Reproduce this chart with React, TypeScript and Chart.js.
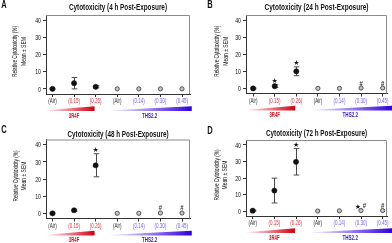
import React, { useEffect, useRef } from 'react';
import { Chart, registerables } from 'chart.js';

Chart.register(...registerables);

// ---------- data ----------
const xLabels = ['(Air)', '(0.15)', '(0.26)', '(Air)', '(0.14)', '(0.30)', '(0.45)'];
const xLabelColors = ['#2a2a2a', '#e0303e', '#e0303e', '#2a2a2a', '#7a58ee', '#7a58ee', '#7a58ee'];
const yTicks = [0, 10, 20, 30, 40];
const yTitle = ['Relative Cytotoxicity (%)', 'Mean \u00B1 SEM'];
const groupLabels = ['3R4F', 'THS2.2'];
const panelLetters = ['A', 'B', 'C', 'D'];
const panelTitles = [
  'Cytotoxicity (4 h Post-Exposure)',
  'Cytotoxicity (24 h Post-Exposure)',
  'Cytotoxicity (48 h Post-Exposure)',
  'Cytotoxicity (72 h Post-Exposure)',
];

const r4fX = [0, 1, 2];
const thsX = [3, 4, 5, 6];

const r4fMeanA = [0, 3.3, 1.2];
const r4fSemA = [0.3, 3.3, 0.6];
const thsMeanA = [0, 0, 0, 0];
const thsSemA = [0.4, 0.4, 0.4, 0.4];
const marksA: { x: number; y: number; t: string }[] = [];

const r4fMeanB = [0, 1.3, 10];
const r4fSemB = [0.3, 0.8, 2.6];
const thsMeanB = [0, 0, 0.2, 0.2];
const thsSemB = [0.4, 0.4, 0.4, 0.4];
const marksB = [
  { x: 1, y: 4.3, t: '\u2605' },
  { x: 2, y: 14.6, t: '\u2605' },
  { x: 5, y: 2.8, t: '#' },
  { x: 6, y: 2.8, t: '#' },
];

const r4fMeanC = [0, 1.8, 28];
const r4fSemC = [0.3, 0.6, 6.7];
const thsMeanC = [0, 0, 0.2, 0.2];
const thsSemC = [0.4, 0.4, 0.4, 0.4];
const marksC = [
  { x: 2, y: 37, t: '\u2605' },
  { x: 5, y: 3, t: '#' },
  { x: 6, y: 3, t: '#' },
];

const r4fMeanD = [0.2, 12.4, 29.8];
const r4fSemD = [0.3, 7.5, 8];
const thsMeanD = [0, 0.1, 0.3, 0.3];
const thsSemD = [0.4, 0.4, 0.4, 0.4];
const marksD = [
  { x: 2, y: 40, t: '\u2605' },
  { x: 4.86, y: 2.6, t: '\u2605' },
  { x: 5.16, y: 3, t: '#' },
  { x: 6, y: 3, t: '#' },
];

const panelData = [
  { r4fMean: r4fMeanA, r4fSem: r4fSemA, thsMean: thsMeanA, thsSem: thsSemA, marks: marksA },
  { r4fMean: r4fMeanB, r4fSem: r4fSemB, thsMean: thsMeanB, thsSem: thsSemB, marks: marksB },
  { r4fMean: r4fMeanC, r4fSem: r4fSemC, thsMean: thsMeanC, thsSem: thsSemC, marks: marksC },
  { r4fMean: r4fMeanD, r4fSem: r4fSemD, thsMean: thsMeanD, thsSem: thsSemD, marks: marksD },
];

// ---------- layout ----------
const FF = '"Liberation Sans", Arial, sans-serif';

const layouts = [
  { left: 0, top: 0, w: 196, h: 121, yW: 46, padR: 6, padT: 15, padB: 15, xMin: -0.3, xMax: 6.37, letterX: 4, letterY: 5.5, titleY: 7.5, titleW: 98, yt1: 15.5, yt2: 24 },
  { left: 196, top: 0, w: 196, h: 121, yW: 50, padR: 4, padT: 15, padB: 15.5, xMin: -0.33, xMax: 6.2, letterX: 14, letterY: 5.5, titleY: 7.5, titleW: 104, yt1: 21.5, yt2: 30 },
  { left: 0, top: 121, w: 196, h: 122, yW: 46, padR: 6, padT: 18.5, padB: 12.5, xMin: -0.3, xMax: 6.37, letterX: 4, letterY: 9.5, titleY: 13, titleW: 101, yt1: 16, yt2: 24.5 },
  { left: 196, top: 121, w: 196, h: 122, yW: 50, padR: 5, padT: 19, padB: 15, xMin: -0.31, xMax: 6.2, letterX: 14, letterY: 10.5, titleY: 12.5, titleW: 101, yt1: 21, yt2: 29.5 },
];

function measure(ctx: CanvasRenderingContext2D, text: string, font: string) {
  ctx.save();
  ctx.font = font;
  const w = ctx.measureText(text).width;
  ctx.restore();
  return w;
}

function drawText(
  ctx: CanvasRenderingContext2D,
  text: string,
  x: number,
  y: number,
  font: string,
  color: string,
  sx: number,
  align: CanvasTextAlign = 'center',
  rot = 0
) {
  ctx.save();
  ctx.font = font;
  ctx.fillStyle = color;
  ctx.textAlign = align;
  ctx.textBaseline = 'middle';
  ctx.translate(x, y);
  if (rot) ctx.rotate(rot);
  ctx.scale(sx, 1);
  ctx.fillText(text, 0, 0);
  ctx.restore();
}

function drawFit(
  ctx: CanvasRenderingContext2D,
  text: string,
  x: number,
  y: number,
  font: string,
  color: string,
  width: number,
  rot = 0
) {
  const w = measure(ctx, text, font);
  drawText(ctx, text, x, y, font, color, width / w, 'center', rot);
}

function Panel({ idx }: { idx: number }) {
  const ref = useRef<HTMLCanvasElement>(null);
  const L = layouts[idx];
  const D = panelData[idx];

  useEffect(() => {
    const canvas = ref.current;
    if (!canvas) return;

    const deco = {
      id: 'deco' + idx,
      beforeDatasetsDraw(chart: any) {
        const { ctx, chartArea: a, scales } = chart;
        const xs = scales.x;
        const ys = scales.y;
        ctx.save();
        // box top & right
        ctx.strokeStyle = '#8a8a8a';
        ctx.lineWidth = 1;
        ctx.beginPath();
        ctx.moveTo(a.left, a.top + 0.5);
        ctx.lineTo(a.right - 0.5, a.top + 0.5);
        ctx.lineTo(a.right - 0.5, a.bottom);
        ctx.stroke();
        // error bars
        ctx.strokeStyle = '#4a4a4a';
        ctx.lineWidth = 1;
        const drawErr = (xv: number, m: number, s: number, cap: number) => {
          const px = Math.round(xs.getPixelForValue(xv)) + 0.5;
          const y1 = ys.getPixelForValue(m + s);
          const y2 = ys.getPixelForValue(m - s);
          ctx.beginPath();
          ctx.moveTo(px, y1);
          ctx.lineTo(px, y2);
          ctx.moveTo(px - cap, y1);
          ctx.lineTo(px + cap, y1);
          ctx.moveTo(px - cap, y2);
          ctx.lineTo(px + cap, y2);
          ctx.stroke();
        };
        r4fX.forEach((xv, i) => drawErr(xv, D.r4fMean[i], D.r4fSem[i], 2.8));
        thsX.forEach((xv, i) => drawErr(xv, D.thsMean[i], D.thsSem[i], 1.2));
        ctx.restore();
      },
      afterDraw(chart: any) {
        const { ctx, chartArea: a, scales } = chart;
        const xs = scales.x;
        const ys = scales.y;
        // y tick labels
        ys.ticks.forEach((t: any) => {
          drawText(ctx, String(t.value), a.left - 5, ys.getPixelForValue(t.value) + 0.5, `8px ${FF}`, '#111', 0.66, 'right');
        });
        // x tick labels
        xs.ticks.forEach((t: any) => {
          const i = Math.round(t.value);
          drawText(ctx, xLabels[i], xs.getPixelForValue(t.value), a.bottom + 7, `7.5px ${FF}`, xLabelColors[i], 0.6);
        });
        // y title
        const yc = (a.top + a.bottom) / 2 - 3;
        drawFit(ctx, yTitle[0], L.yt1, yc, `7px ${FF}`, '#111', 51, -Math.PI / 2);
        drawFit(ctx, yTitle[1], L.yt2, yc, `7px ${FF}`, '#111', 29, -Math.PI / 2);
        // marks (stars / #)
        D.marks.forEach((m) => {
          const px = xs.getPixelForValue(m.x);
          const py = ys.getPixelForValue(m.y);
          if (m.t === '#') drawText(ctx, '#', px, py, `bold 7.5px ${FF}`, '#333', 0.8);
          else drawText(ctx, m.t, px, py, `7px "DejaVu Sans", sans-serif`, '#111', 1);
        });
        // wedges
        ctx.save();
        const wb = a.bottom + 17;
        const drawWedge = (x0v: number, x1v: number, c0: string, c1: string) => {
          const x0 = xs.getPixelForValue(x0v);
          const x1 = xs.getPixelForValue(x1v);
          const g = ctx.createLinearGradient(x0, 0, x1, 0);
          g.addColorStop(0, c0);
          g.addColorStop(1, c1);
          ctx.fillStyle = g;
          ctx.beginPath();
          ctx.moveTo(x0, wb);
          ctx.lineTo(x1, wb);
          ctx.lineTo(x1, wb - 4.8);
          ctx.lineTo(x0, wb - 0.8);
          ctx.closePath();
          ctx.fill();
        };
        drawWedge(-0.28, 1.95, 'rgba(230,0,20,0.05)', '#cf0010');
        drawWedge(2.7, 6.45, 'rgba(60,0,230,0.03)', '#3000dc');
        ctx.restore();
        // group labels
        drawFit(ctx, groupLabels[0], xs.getPixelForValue(1), wb + 4.5, `bold 7.5px ${FF}`, '#d0101c', 10.5);
        drawFit(ctx, groupLabels[1], xs.getPixelForValue(4.5), wb + 4.5, `bold 7.5px ${FF}`, '#3818c8', 15.5);
        // title
        drawFit(ctx, panelTitles[idx], (a.left + a.right) / 2, L.titleY, `bold 9.5px ${FF}`, '#111', L.titleW);
        // letter
        drawText(ctx, panelLetters[idx], L.letterX, L.letterY, `bold 10px ${FF}`, '#111', 0.75);
      },
    };

    const chart = new Chart(canvas, {
      type: 'scatter',
      data: {
        datasets: [
          {
            label: '3R4F',
            data: r4fX.map((x, i) => ({ x, y: D.r4fMean[i] })),
            pointRadius: 2.6,
            pointBackgroundColor: '#111',
            pointBorderColor: '#111',
            pointBorderWidth: 0.5,
          },
          {
            label: 'THS2.2',
            data: thsX.map((x, i) => ({ x, y: D.thsMean[i] })),
            pointRadius: 2.1,
            pointBackgroundColor: '#c4c4c4',
            pointBorderColor: '#555',
            pointBorderWidth: 1,
          },
        ],
      },
      options: {
        animation: false,
        responsive: false,
        devicePixelRatio: 1,
        layout: { padding: { left: 0, right: L.padR, top: L.padT, bottom: L.padB } },
        plugins: { legend: { display: false }, tooltip: { enabled: false }, title: { display: false } },
        scales: {
          x: {
            type: 'linear',
            min: L.xMin,
            max: L.xMax,
            afterBuildTicks: (s: any) => {
              s.ticks = xLabels.map((_, i) => ({ value: i }));
            },
            afterFit: (s: any) => {
              s.height = 12;
            },
            ticks: { display: false },
            grid: { drawOnChartArea: false, drawTicks: true, tickLength: 3, color: '#333' },
            border: { display: true, color: '#333', width: 1 },
          },
          y: {
            type: 'linear',
            min: -3,
            max: 43,
            afterBuildTicks: (s: any) => {
              s.ticks = yTicks.map((v) => ({ value: v }));
            },
            afterFit: (s: any) => {
              s.width = L.yW;
            },
            ticks: { display: false },
            grid: { drawOnChartArea: false, drawTicks: true, tickLength: 3, color: '#333' },
            border: { display: true, color: '#333', width: 1 },
          },
        },
      },
      plugins: [deco],
    } as any);
    return () => chart.destroy();
  }, [idx]);

  return (
    <canvas
      ref={ref}
      width={L.w}
      height={L.h}
      style={{ position: 'absolute', left: L.left, top: L.top, width: L.w, height: L.h }}
    />
  );
}

export default function App() {
  return (
    <div style={{ position: 'absolute', left: 0, top: 0, width: 392, height: 243, background: '#fff', overflow: 'hidden' }}>
      {[0, 1, 2, 3].map((i) => (
        <Panel key={i} idx={i} />
      ))}
    </div>
  );
}
